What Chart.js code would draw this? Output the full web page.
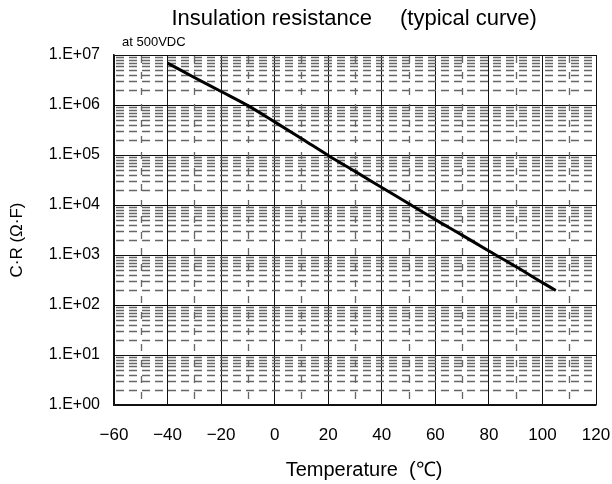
<!DOCTYPE html>
<html>
<head>
<meta charset="utf-8">
<script src="https://cdn.jsdelivr.net/npm/chart.js@4/dist/chart.umd.min.js"></script>
<style>
html, body { margin: 0; padding: 0; background: #fff; }
#wrap { width: 612px; height: 484px; position: relative; }
</style>
</head>
<body>
<div id="wrap"><canvas id="irChart" width="612" height="484"></canvas></div>
<script>
// curve (temperature in degC, C*R in ohm*F)
const temps = [-40, -30, -20, -10, 0, 10, 20, 30, 40, 50, 60, 70, 80, 90, 100, 105];
const crValues = [6.9e6, 3.55e6, 1.86e6, 9.7e5, 4.6e5, 2.14e5, 9.8e4, 4.7e4, 2.24e4, 1.07e4, 5.1e3, 2.5e3, 1.2e3, 5.9e2, 2.8e2, 1.95e2];

const xTicks = [-60, -40, -20, 0, 20, 40, 60, 80, 100, 120];
const xMinor = [-50, -30, -10, 10, 30, 50, 70, 90, 110];
const yDecades = [1, 1e1, 1e2, 1e3, 1e4, 1e5, 1e6, 1e7];
const yLabels = ['1.E+00', '1.E+01', '1.E+02', '1.E+03', '1.E+04', '1.E+05', '1.E+06', '1.E+07'];
const yMinorMult = [2, 3, 4, 5, 6, 7, 8, 9];

const titleLeft = 'Insulation resistance';
const titleRight = '(typical curve)';
const subText = 'at 500VDC';
const xTitle = 'Temperature  (\u2103)';
const yTitle = 'C\u00b7R (\u03a9\u00b7F)';

const FONT = '"Liberation Sans", Arial, sans-serif';
const NARROW = '"Liberation Sans Narrow", "Liberation Sans", Arial, sans-serif';

// dashed minor grid and the free texts, drawn with the chart's own scales
const minorGrid = {
    id: 'minorGrid',
    beforeDatasetsDraw(chart) {
        const ctx = chart.ctx, area = chart.chartArea;
        const xs = chart.scales.x, ys = chart.scales.y;
        ctx.save();
        ctx.beginPath();
        ctx.rect(area.left, area.top, area.right - area.left, area.bottom - area.top);
        ctx.clip();
        ctx.strokeStyle = '#666';
        ctx.lineWidth = 1.3;
        ctx.setLineDash([8, 5]);
        for (let d = 0; d < yDecades.length - 1; d++) {
            for (const m of yMinorMult) {
                const y = Math.round(ys.getPixelForValue(yDecades[d] * m)) + 0.5;
                ctx.beginPath();
                ctx.moveTo(area.left + 2, y);
                ctx.lineTo(area.right, y);
                ctx.stroke();
            }
        }
        ctx.setLineDash([7, 9]);
        for (const v of xMinor) {
            const x = Math.round(xs.getPixelForValue(v)) + 0.5;
            ctx.beginPath();
            ctx.moveTo(x, area.bottom - 6);
            ctx.lineTo(x, area.top);
            ctx.stroke();
        }
        ctx.restore();
    },
    afterDraw(chart) {
        const ctx = chart.ctx;
        ctx.save();
        ctx.fillStyle = '#000';
        ctx.textBaseline = 'middle';
        ctx.font = '22px ' + FONT;
        ctx.textAlign = 'right';
        ctx.fillText(titleLeft, 372, 19);
        ctx.textAlign = 'left';
        ctx.fillText(titleRight, 400, 19);
        ctx.font = '13px ' + FONT;
        ctx.fillText(subText, 122, 42);
        ctx.textAlign = 'center';
        ctx.font = '20px ' + NARROW;
        ctx.fillText(xTitle, 364, 470);
        ctx.translate(17, 240);
        ctx.rotate(-Math.PI / 2);
        ctx.font = '17px ' + NARROW;
        ctx.fillText(yTitle, 0, 0);
        ctx.restore();
    }
};

new Chart(document.getElementById('irChart'), {
    type: 'line',
    data: {
        datasets: [{
            data: temps.map((t, i) => ({ x: t, y: crValues[i] })),
            borderColor: '#000',
            borderWidth: 3,
            pointRadius: 0,
            cubicInterpolationMode: 'monotone'
        }]
    },
    options: {
        responsive: false,
        animation: false,
        layout: { padding: { top: 55, right: 16, left: 0, bottom: 0 } },
        plugins: { legend: { display: false }, tooltip: { enabled: false } },
        scales: {
            x: {
                type: 'linear',
                min: -60, max: 120,
                afterBuildTicks: s => { s.ticks = xTicks.map(v => ({ value: v })); },
                afterFit: s => { s.height = 79; s.paddingLeft = 0; s.paddingRight = 0; },
                grid: { color: '#111', lineWidth: 1, drawTicks: false },
                border: { color: '#111', width: 1.5 },
                ticks: {
                    color: '#000', padding: 20, maxRotation: 0, font: { family: NARROW, size: 17 },
                    callback: v => String(v).replace('-', '\u2212')
                }
            },
            y: {
                type: 'logarithmic',
                min: 1, max: 1e7,
                afterBuildTicks: s => { s.ticks = yDecades.map(v => ({ value: v })); },
                afterFit: s => { s.width = 114; s.paddingTop = 0; s.paddingBottom = 0; },
                grid: { color: '#111', lineWidth: 1, drawTicks: false },
                border: { color: '#111', width: 1.5 },
                ticks: {
                    color: '#000', padding: 14, font: { family: FONT, size: 16 },
                    callback: v => yLabels[yDecades.indexOf(v)]
                }
            }
        }
    },
    plugins: [minorGrid]
});
</script>
</body>
</html>
